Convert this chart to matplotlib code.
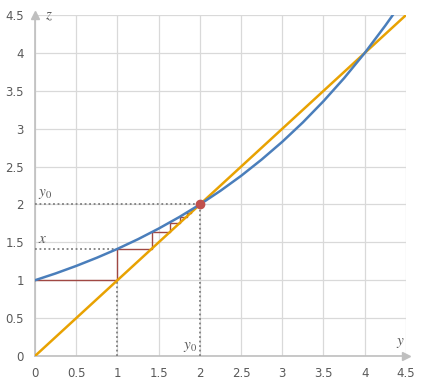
import matplotlib.pyplot as plt
import numpy as np

# curve z = f(y)
curve_y = [0, 0.25, 0.5, 0.75, 1, 1.25, 1.5, 1.75, 2, 2.25, 2.5, 2.75, 3, 3.25, 3.5, 3.75, 4, 4.25, 4.34]
curve_z = [1, 1.09, 1.189, 1.297, 1.414, 1.542, 1.682, 1.834, 2, 2.181, 2.378, 2.594, 2.828, 3.084, 3.364, 3.668, 4, 4.362, 4.5]

# diagonal z = y
diag = [0, 4.5]

# iterates of the staircase
iters = [0, 1, 1.414, 1.633, 1.761, 1.841, 1.893, 1.927]

fixed_pt = (2, 2)
ticks = [0, 0.5, 1, 1.5, 2, 2.5, 3, 3.5, 4, 4.5]
tick_labels = ['0', '0.5', '1', '1.5', '2', '2.5', '3', '3.5', '4', '4.5']

plt.rcParams['mathtext.fontset'] = 'stix'
fig = plt.figure(figsize=(4.29, 3.88), dpi=100)
ax = fig.add_axes([0.0816, 0.0825, 0.8646, 0.8785])

grid_c = '#d9d9d9'
ax.set_xlim(0, 4.5)
ax.set_ylim(0, 4.5)
ax.set_xticks(ticks)
ax.set_yticks(ticks)
ax.set_xticklabels(tick_labels)
ax.set_yticklabels(tick_labels)
ax.grid(True, color=grid_c, lw=0.9)
ax.tick_params(length=0, labelsize=8.5, labelcolor='#595959', pad=8)
for s in ['top', 'right']:
    ax.spines[s].set_visible(False)
for s in ['left', 'bottom']:
    ax.spines[s].set_color('#bfbfbf')
    ax.spines[s].set_linewidth(1.2)
# arrow heads on axes
ax.plot(1, 0, '>', color='#bfbfbf', ms=6, transform=ax.transAxes, clip_on=False)
ax.plot(0, 1, '^', color='#bfbfbf', ms=6, transform=ax.transAxes, clip_on=False)

# staircase
sx, sz = [iters[0]], [iters[1]]
for a, b in zip(iters[1:-1], iters[2:]):
    sx += [a, a]
    sz += [a, b]
ax.plot(sx, sz, color='#a04843', lw=1.0, zorder=3)

# dotted guide lines
dot = dict(color='#7f7f7f', lw=1.3, ls=(0, (1, 1.5)), zorder=3)
ax.plot([0, 2], [2, 2], **dot)
ax.plot([2, 2], [0, 2], **dot)
ax.plot([0, 1], [iters[2], iters[2]], **dot)
ax.plot([1, 1], [0, 1], **dot)

ax.plot(diag, diag, color='#e8a202', lw=1.8, zorder=4)
ax.plot(curve_y, curve_z, color='#4a7ebb', lw=1.8, zorder=5)
ax.plot(*fixed_pt, 'o', color='#c0504d', ms=6, zorder=6)

tc = '#595959'
ax.text(0.04, 2.04, r'$y_0$', fontsize=11, color=tc, va='bottom')
ax.text(0.04, 1.45, r'$x$', fontsize=11, color=tc, va='bottom')
ax.text(1.97, 0.02, r'$y_0$', fontsize=11, color=tc, va='bottom', ha='right')
ax.text(4.38, 0.08, r'$y$', fontsize=11, color=tc, va='bottom')
ax.text(0.12, 4.5, r'$z$', fontsize=11, color=tc, va='center')

plt.savefig('out.png', dpi=100)
plt.close()
